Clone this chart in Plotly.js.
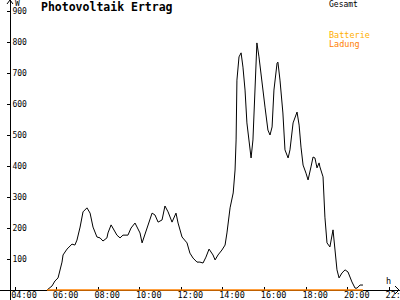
<!DOCTYPE html>
<html>
<head>
<meta charset="utf-8">
<script src="https://cdn.plot.ly/plotly-3.0.1.min.js"></script>
<style>html,body{margin:0;padding:0;background:#fff;}#chart{width:400px;height:300px;}</style>
</head>
<body>
<div id="chart"></div>
<script>
// Time of day in decimal hours
const gesamtTimes = [5.54,5.78,5.92,6.07,6.26,6.31,6.50,6.74,6.88,6.98,7.13,7.27,7.46,7.61,7.75,7.94,8.09,8.23,8.42,8.47,8.62,8.71,8.90,9.05,9.19,9.43,9.58,9.77,10.01,10.11,10.35,10.59,10.73,10.88,11.07,11.21,11.36,11.55,11.74,11.84,12.03,12.27,12.41,12.56,12.75,12.89,13.04,13.18,13.33,13.52,13.62,13.76,13.95,14.10,14.19,14.34,14.49,14.58,14.63,14.67,14.77,14.87,14.96,15.06,15.15,15.30,15.35,15.44,15.49,15.59,15.63,15.73,15.88,16.02,16.16,16.26,16.36,16.45,16.60,16.64,16.74,16.88,16.98,17.13,17.22,17.37,17.56,17.66,17.75,17.85,17.99,18.09,18.23,18.33,18.42,18.52,18.62,18.66,18.81,18.90,19.00,19.14,19.29,19.34,19.48,19.58,19.72,19.87,20.01,20.20,20.35,20.44,20.59,20.73];
// Power in W
const gesamtValues = [0,13,29,39,90,113,132,148,145,161,203,252,265,248,203,171,168,158,168,184,210,200,177,168,177,177,200,216,184,152,203,248,242,219,226,271,252,219,248,216,171,152,119,103,90,90,87,106,132,113,97,113,129,145,184,265,313,387,484,677,752,765,719,645,539,442,426,484,571,732,797,752,677,590,516,500,526,645,732,735,677,571,452,426,452,539,574,532,461,403,377,355,397,429,426,394,410,397,365,235,152,139,194,161,65,39,55,65,58,26,6,6,16,16];
const batteryTimes = [5.54, 20.73];
const batteryValues = [0, 0];

const xTickVals = [4,6,8,10,12,14,16,18,20,22];
const xTickText = ["04:00","06:00","08:00","10:00","12:00","14:00","16:00","18:00","20:00","22:00"];
const yTickVals = [100,200,300,400,500,600,700,800,900];
const yTickText = ["100","200","300","400","500","600","700","800","900"];

const W = 400, H = 300;
const mono = "DejaVu Sans Mono, monospace";

const traces = [
  {x: gesamtTimes, y: gesamtValues, type: "scatter", mode: "lines", name: "Gesamt",
   line: {color: "#000000", width: 1}, hoverinfo: "skip"},
  {x: batteryTimes, y: batteryValues, type: "scatter", mode: "lines", name: "Batterie Ladung",
   line: {color: "#FF8000", width: 1.5}, hoverinfo: "skip"}
];

const xr = [3.279, 22.51];
const yr = [-32.26, 935.48];

const commonX = {range: xr, tickmode: "array", tickvals: xTickVals, showgrid: false, zeroline: false, fixedrange: true, layer: "below traces"};
const commonY = {range: yr, tickmode: "array", tickvals: yTickVals, showgrid: false, zeroline: false, fixedrange: true, layer: "below traces"};

const layout = {
  width: W, height: H,
  margin: {l: 0, r: 0, t: 0, b: 0, pad: 0},
  paper_bgcolor: "#ffffff", plot_bgcolor: "#ffffff",
  showlegend: false,
  xaxis: Object.assign({}, commonX, {
    anchor: "free", position: 10/300, showline: true, linecolor: "#000", linewidth: 1,
    ticks: "inside", ticklen: 3, tickcolor: "#000", tickwidth: 1,
    ticktext: xTickText, ticklabelshift: 9, ticklabelstandoff: -3, ticklabeloverflow: "allow",
    tickfont: {family: mono, size: 8.5, color: "#000"}
  }),
  xaxis2: Object.assign({}, commonX, {
    overlaying: "x", anchor: "free", position: 10/300, showline: false,
    ticks: "outside", ticklen: 3, tickcolor: "#000", tickwidth: 1, showticklabels: false
  }),
  yaxis: Object.assign({}, commonY, {
    anchor: "free", position: 10/400, showline: true, linecolor: "#000", linewidth: 1,
    ticks: "outside", ticklen: 3, tickcolor: "#000", tickwidth: 1,
    ticktext: yTickText, ticklabelposition: "inside", ticklabeloverflow: "allow",
    tickfont: {family: mono, size: 8, color: "#000"}
  }),
  yaxis2: Object.assign({}, commonY, {
    overlaying: "y", anchor: "free", position: 10/400, showline: false,
    ticks: "inside", ticklen: 3, tickcolor: "#000", tickwidth: 1, showticklabels: false
  }),
  shapes: [
    {type: "path", xref: "paper", yref: "paper",
     path: `M ${7/W} ${1-4/H} L ${10/W} ${1} L ${13/W} ${1-4/H}`,
     line: {color: "#000", width: 1}},
    {type: "path", xref: "paper", yref: "paper",
     path: `M ${395/W} ${1-286/H} L ${399/W} ${1-290/H} L ${395/W} ${1-294/H}`,
     line: {color: "#000", width: 1}}
  ],
  annotations: [
    {text: "<b>Photovoltaik Ertrag</b>", xref: "paper", yref: "paper", x: 39/W, y: 1-7/H,
     xanchor: "left", yanchor: "middle", showarrow: false,
     font: {family: mono, size: 11.5, color: "#000"}},
    {text: "W", xref: "paper", yref: "paper", x: 13/W, y: 1-4/H,
     xanchor: "left", yanchor: "middle", showarrow: false,
     font: {family: mono, size: 8, color: "#000"}},
    {text: "h", xref: "paper", yref: "paper", x: 384/W, y: 1-281/H,
     xanchor: "left", yanchor: "middle", showarrow: false,
     font: {family: mono, size: 8.5, color: "#000"}},
    {text: "Gesamt", xref: "paper", yref: "paper", x: 327/W, y: 1-4.5/H,
     xanchor: "left", yanchor: "middle", showarrow: false,
     font: {family: mono, size: 8, color: "#000"}},
    {text: "Batterie", xref: "paper", yref: "paper", x: 327/W, y: 1-35/H,
     xanchor: "left", yanchor: "middle", showarrow: false,
     font: {family: mono, size: 8.5, color: "#FFB000"}},
    {text: "Ladung", xref: "paper", yref: "paper", x: 327/W, y: 1-43.5/H,
     xanchor: "left", yanchor: "middle", showarrow: false,
     font: {family: mono, size: 8.5, color: "#FF8000"}}
  ]
};

Plotly.newPlot("chart", traces, layout, {staticPlot: true, displayModeBar: false});
</script>
</body>
</html>
